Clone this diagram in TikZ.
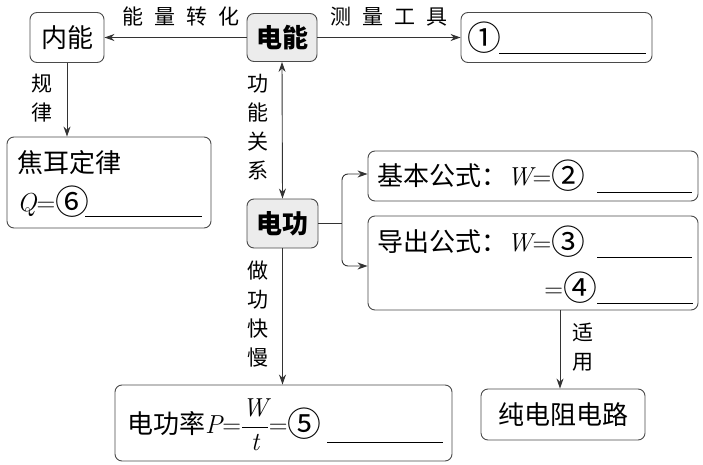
\documentclass[tikz,border=0pt]{standalone}
\usepackage{fontspec}
\newfontfamily\cjk{Noto Sans CJK SC}
\usetikzlibrary{arrows.meta}
\definecolor{linec}{HTML}{333333}
\definecolor{boxc}{HTML}{4A4A4A}
\definecolor{fillc}{HTML}{ECECEC}
\newcommand{\vi}[1]{{\rmfamily\itshape #1}}
\newcommand{\eqs}{{\rmfamily =}}
\newcommand{\cn}[1]{\raisebox{-0.12em}{\scalebox{1.3}{#1}}}
\begin{document}
\begin{tikzpicture}[x=1pt,y=-1pt,
  box/.style={draw=boxc, line width=0.9pt, rounded corners=7pt, inner sep=0pt},
  arr/.style={draw=linec, line width=0.9pt, -{Stealth[length=10pt,width=7pt]}},
  big/.style={font=\cjk\fontsize{26}{30}\selectfont, inner sep=0pt},
  bigb/.style={font=\cjk\bfseries\fontsize{26}{30}\selectfont},
  lbl/.style={font=\cjk\fontsize{21}{29}\selectfont, align=center, inner sep=0pt},
  blank/.style={line width=0.9pt, draw=black}]
\path[use as bounding box] (0,0) rectangle (703,465);

% boxes
\node[box, big, minimum width=74pt, minimum height=50pt] (nei) at (67,37.5) {内能};
\node[box, bigb, fill=fillc, minimum width=70pt, minimum height=48pt] (dn) at (282,37.5) {电能};
\node[box, minimum width=191pt, minimum height=50pt] (t1) at (556.5,37.5) {};
\node[big] (c1) at (484,38) {\cn{①}};
\draw[blank] (499,53) -- (646,53);

\node[box, minimum width=204pt, minimum height=91pt] (joule) at (109,182.5) {};
\node[big, anchor=west] (jt) at (17,163) {焦耳定律};
\node[big, anchor=west] (jq) at (17,202) {\vi{Q}\eqs\cn{⑥}};
\draw[blank] (85,216) -- (202,216);

\node[box, bigb, fill=fillc, minimum width=71pt, minimum height=49pt] (dg) at (282.5,223.5) {电功};

\node[box, minimum width=330pt, minimum height=50pt] (basic) at (533,176) {};
\node[big, anchor=west] (bt) at (377,176) {基本公式：\vi{W}\eqs\cn{②}};
\draw[blank] (597,192) -- (692,192);

\node[box, minimum width=330pt, minimum height=94pt] (derived) at (533,263) {};
\node[big, anchor=west] (d1) at (377,242) {导出公式：\vi{W}\eqs\cn{③}};
\draw[blank] (597,257) -- (692,257);
\node[big, anchor=east] (d2) at (597,288) {\eqs\cn{④}};
\draw[blank] (597,303) -- (693,303);

\node[box, minimum width=337pt, minimum height=76pt] (power) at (283.5,423) {};
\node[big, anchor=west] (pt) at (127,425) {电功率\vi{P}\eqs$\displaystyle\frac{\hbox{\vi{W}}}{\hbox{\vi{t}}}$\eqs\cn{⑤}};
\draw[blank] (327,442) -- (443,442);

\node[box, big, minimum width=164pt, minimum height=51pt] (pure) at (563,414.5) {纯电阻电路};

% labels
\node[lbl] (l1) at (181,17) {能\hspace{11pt}量\hspace{11pt}转\hspace{11pt}化};
\node[lbl] (l2) at (389,17) {测\hspace{11pt}量\hspace{11pt}工\hspace{11pt}具};
\node[lbl] (l3) at (42,98) {规\\律};
\node[lbl] (l4) at (258,127) {功\\能\\关\\系};
\node[lbl] (l5) at (258,314) {做\\功\\快\\慢};
\node[lbl] (l6) at (583,347) {适\\用};

% connectors
\draw[arr] (dn.west) -- (nei.east);
\draw[arr] (dn.east) -- (t1.west);
\draw[arr] (nei.south) -- (nei.south |- joule.north);
\draw[draw=linec, line width=0.9pt, {Stealth[length=10pt,width=7pt]}-{Stealth[length=10pt,width=7pt]}] (dn.south) -- (dg.north);
\coordinate (br) at (342,223.5);
\draw[draw=linec, line width=0.9pt] (dg.east) -- (br);
\draw[arr, rounded corners=6pt] (br) |- ([yshift=2pt]basic.west);
\draw[arr, rounded corners=6pt] (br) |- ([yshift=-3pt]derived.west);
\draw[arr] (dg.south) -- (dg.south |- power.north);
\draw[arr] ([xshift=27pt]derived.south) -- ([xshift=27pt]derived.south |- pure.north);
\end{tikzpicture}
\end{document}
